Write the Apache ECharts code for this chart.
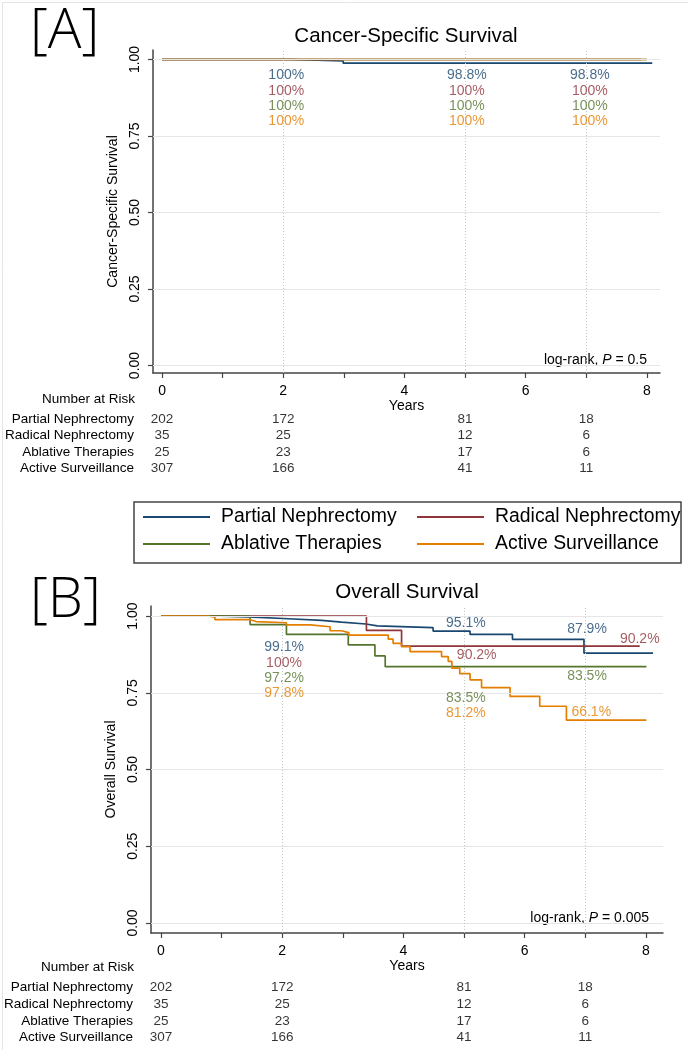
<!DOCTYPE html>
<html>
<head>
<meta charset="utf-8">
<script src="https://cdn.jsdelivr.net/npm/echarts@6/dist/echarts.min.js"></script>
<style>
html,body{margin:0;padding:0;background:#fff;}
#chart{width:688px;height:1050px;}
</style>
</head>
<body>
<div id="chart"></div>
<script>
// ---------- DATA ----------
const groups = ['Partial Nephrectomy', 'Radical Nephrectomy', 'Ablative Therapies', 'Active Surveillance'];
const xTicks = [0, 1, 2, 3, 4, 5, 6, 7, 8];
const xTickLabels = [0, 2, 4, 6, 8];
const yTicks = [0, 0.25, 0.5, 0.75, 1];
const riskTimes = [0, 2, 5, 7];
const riskPartial = [202, 172, 81, 18];
const riskRadical = [35, 25, 12, 6];
const riskAblative = [25, 23, 17, 6];
const riskActive = [307, 166, 41, 11];

// Panel A: cancer-specific survival (Kaplan-Meier steps)
const cssPartialT = [0, 2.12, 2.99, 8.09];
const cssPartialS = [1, 0.995, 0.988, 0.988];
const cssRadicalT = [0, 7.9];
const cssRadicalS = [1, 1];
const cssAblativeT = [0, 8.0];
const cssAblativeS = [1, 1];
const cssActiveT = [0, 8.0];
const cssActiveS = [1, 1];

// Panel B: overall survival (Kaplan-Meier steps)
const osPartialT = [0, 0.8, 1.43, 2.1, 2.65, 2.98, 3.38, 3.57, 4.49, 5.1, 5.8, 6.98, 8.12];
const osPartialS = [1, 0.997, 0.991, 0.986, 0.98, 0.974, 0.968, 0.962, 0.951, 0.94, 0.924, 0.879, 0.879];
const osRadicalT = [0, 3.39, 3.97, 7.9];
const osRadicalS = [1, 0.953, 0.902, 0.902];
const osAblativeT = [0, 1.47, 2.07, 3.09, 3.53, 3.7, 8.01];
const osAblativeS = [1, 0.972, 0.94, 0.906, 0.87, 0.835, 0.835];
const osActiveT = [0, 0.78, 0.89, 1.47, 1.57, 2.07, 2.46, 2.79, 2.98, 3.1, 3.75, 3.83, 3.97, 4.11, 4.63, 4.74, 4.8, 4.93, 5.1, 5.29, 5.76, 6.25, 6.69, 8.01];
const osActiveS = [1, 0.996, 0.988, 0.982, 0.978, 0.971, 0.965, 0.952, 0.946, 0.938, 0.925, 0.911, 0.9, 0.884, 0.868, 0.852, 0.83, 0.812, 0.792, 0.767, 0.738, 0.706, 0.661, 0.661];

// Survival estimate annotations (text), by group, at 2 / 5 / 7 years
const cssText2 = ['100%', '100%', '100%', '100%'];
const cssText5 = ['98.8%', '100%', '100%', '100%'];
const cssText7 = ['98.8%', '100%', '100%', '100%'];
const osText2 = ['99.1%', '100%', '97.2%', '97.8%'];
const osText5 = ['95.1%', '90.2%', '83.5%', '81.2%'];
const osText7 = ['87.9%', '90.2%', '83.5%', '66.1%'];
const pValueA = '0.5';
const pValueB = '0.005';

// ---------- STYLE / LAYOUT ----------
const colors = ['#1a476f', '#90353b', '#55752f', '#e37e00'];
const FONT = "'Liberation Sans', Arial, sans-serif";
const riskLists = [riskPartial, riskRadical, riskAblative, riskActive];
const cssCurves = [[cssPartialT, cssPartialS], [cssRadicalT, cssRadicalS], [cssAblativeT, cssAblativeS], [cssActiveT, cssActiveS]];
const osCurves = [[osPartialT, osPartialS], [osRadicalT, osRadicalS], [osAblativeT, osAblativeS], [osActiveT, osActiveS]];

// annotation placement (data coordinates) per panel
const annotA = [
  {texts: cssText2, x: [2.05, 2.05, 2.05, 2.05], y: [0.95, 0.898, 0.847, 0.797]},
  {texts: cssText5, x: [5.03, 5.03, 5.03, 5.03], y: [0.95, 0.898, 0.847, 0.797]},
  {texts: cssText7, x: [7.06, 7.06, 7.06, 7.06], y: [0.95, 0.898, 0.847, 0.797]}
];
const annotB = [
  {texts: osText2, x: [2.03, 2.03, 2.03, 2.03], y: [0.899, 0.848, 0.799, 0.749]},
  {texts: osText5, x: [5.03, 5.21, 5.03, 5.03], y: [0.978, 0.871, 0.734, 0.682]},
  {texts: osText7, x: [7.03, 7.9, 7.03, 7.1], y: [0.958, 0.925, 0.805, 0.686]}
];

const axA = {min: -0.149, max: 8.218};
const axB = {min: -0.165, max: 8.284};

function zip(t, s) { return t.map((v, i) => [v, s[i]]); }

const chart = echarts.init(document.getElementById('chart'), null, {renderer: 'canvas'});

function plotXAxis(grid, ax, nameGap, margin) {
  return {
    gridIndex: grid, type: 'value', min: ax.min, max: ax.max,
    name: 'Years', nameLocation: 'middle', nameGap: nameGap,
    nameTextStyle: {fontFamily: FONT, fontSize: 14, color: '#000'},
    axisLine: {onZero: false, lineStyle: {color: '#444', width: 1.5}},
    axisTick: {show: true, length: 5, customValues: xTicks, lineStyle: {color: '#444', width: 1.2}},
    axisLabel: {customValues: xTickLabels, margin: margin, fontFamily: FONT, fontSize: 14, color: '#000'},
    splitLine: {show: false}
  };
}
function plotYAxis(grid, min, max, name) {
  return {
    gridIndex: grid, type: 'value', min: min, max: max,
    name: name, nameLocation: 'middle', nameGap: 27, nameRotate: 90,
    nameTextStyle: {fontFamily: FONT, fontSize: 14, color: '#000'},
    axisLine: {show: true, onZero: false, lineStyle: {color: '#444', width: 1.5}},
    axisTick: {show: true, length: 5, customValues: yTicks, lineStyle: {color: '#444', width: 1.2}},
    axisLabel: {customValues: yTicks, rotate: 90, margin: 11, fontFamily: FONT, fontSize: 14, color: '#000',
      formatter: v => Number(v).toFixed(2)},
    splitLine: {show: false}
  };
}
function riskXAxis(grid, ax) {
  return {gridIndex: grid, type: 'value', min: ax.min, max: ax.max, show: false};
}
function riskYAxis(grid, margin) {
  return {
    gridIndex: grid, type: 'category', data: groups, inverse: true,
    axisLine: {show: false}, axisTick: {show: false}, splitLine: {show: false},
    axisLabel: {interval: 0, margin: margin, fontFamily: FONT, fontSize: 13.5, color: '#000'}
  };
}

const series = [];
// gridlines helper series
function gridSeries(xi, yi) {
  return {
    type: 'line', xAxisIndex: xi, yAxisIndex: yi, data: [], silent: true, z: 1,
    markLine: {
      silent: true, symbol: 'none', animation: false, label: {show: false},
      data: [
        ...yTicks.map(v => ({yAxis: v, lineStyle: {color: '#e6e6e6', width: 1.2, type: 'solid'}})),
        ...[2, 5, 7].map(v => ({xAxis: v, lineStyle: {color: '#c4c4c4', width: 1, type: [1, 2]}}))
      ]
    }
  };
}
series.push(gridSeries(0, 0));
series.push(gridSeries(2, 2));

groups.forEach((g, i) => {
  series.push({
    name: g, type: 'line', step: 'end', xAxisIndex: 0, yAxisIndex: 0, z: 3 + (i === 3 ? 1 : 0),
    showSymbol: false, symbol: 'none', color: colors[i],
    lineStyle: {width: 1.7, color: colors[i]},
    data: zip(cssCurves[i][0], cssCurves[i][1])
  });
  series.push({
    name: g, type: 'line', step: 'end', xAxisIndex: 2, yAxisIndex: 2, z: 3,
    showSymbol: false, symbol: 'none', color: colors[i],
    lineStyle: {width: 1.7, color: colors[i]},
    data: zip(osCurves[i][0], osCurves[i][1])
  });
  // number-at-risk rows
  [1, 3].forEach(gi => {
    series.push({
      name: 'risk-' + gi + '-' + g, type: 'scatter', xAxisIndex: gi, yAxisIndex: gi,
      symbolSize: 0, silent: true,
      data: riskTimes.map((t, k) => [t, g, riskLists[i][k]]),
      label: {show: true, position: 'inside', formatter: p => String(p.value[2]),
        fontFamily: FONT, fontSize: 13.5, color: '#000'}
    });
  });
});

function annotSeries(list, xi, yi, tag) {
  groups.forEach((g, i) => {
    series.push({
      name: 'annot-' + tag + '-' + g, type: 'scatter', xAxisIndex: xi, yAxisIndex: yi,
      symbolSize: 0, silent: true, z: 5,
      data: list.map(a => [a.x[i], a.y[i], a.texts[i]]),
      label: {show: true, position: 'inside', formatter: p => p.value[2],
        fontFamily: FONT, fontSize: 14, color: colors[i]}
    });
  });
}
annotSeries(annotA, 0, 0, 'A');
annotSeries(annotB, 2, 2, 'B');

const textStyleBase = {fontFamily: FONT, fill: '#000'};
const bracketStyle = {fontFamily: "'Open Sans', 'Noto Sans', sans-serif", fontWeight: 300, fontSize: 56, fill: '#000', verticalAlign: 'top'};

const legendCommon = {
  top: 506, orient: 'vertical', icon: 'rect', padding: 0,
  itemWidth: 67, itemHeight: 2, itemGap: 5, selectedMode: false,
  textStyle: {fontFamily: FONT, fontSize: 19.4, color: '#000', lineHeight: 22, padding: [0, 0, 0, 6]}
};

const option = {
  animation: false,
  backgroundColor: '#fff',
  grid: [
    {left: 153, top: 50, width: 507, height: 323},
    {left: 153, top: 411, width: 507, height: 66},
    {left: 151, top: 606, width: 512, height: 327},
    {left: 151, top: 979, width: 512, height: 67}
  ],
  xAxis: [
    plotXAxis(0, axA, 26, 11),
    riskXAxis(1, axA),
    plotXAxis(2, axB, 25, 11),
    riskXAxis(3, axB)
  ],
  yAxis: [
    plotYAxis(0, -0.0245, 1.031, 'Cancer-Specific Survival'),
    riskYAxis(1, 19),
    plotYAxis(2, -0.0326, 1.0326, 'Overall Survival'),
    riskYAxis(3, 18)
  ],
  legend: [
    Object.assign({left: 143, data: [groups[0], groups[2]]}, legendCommon),
    Object.assign({left: 417, data: [groups[1], groups[3]]}, legendCommon)
  ],
  graphic: [
    {type: 'rect', left: 0, top: 0, shape: {x: 0.5, y: 0.5, width: 687, height: 1049}, style: {fill: 'none', stroke: '#e4e4e4', lineWidth: 1}, silent: true},
    {type: 'text', x: 30, y: 4, style: Object.assign({text: '[A]'}, bracketStyle)},
    {type: 'text', x: 30, y: 573, style: Object.assign({text: '[B]'}, bracketStyle)},
    {type: 'text', x: 406, y: 36, style: Object.assign({}, textStyleBase, {text: 'Cancer-Specific Survival', fontSize: 20.5, align: 'center', verticalAlign: 'middle'})},
    {type: 'text', x: 407, y: 592, style: Object.assign({}, textStyleBase, {text: 'Overall Survival', fontSize: 20.5, align: 'center', verticalAlign: 'middle'})},
    {type: 'text', x: 135, y: 399, style: Object.assign({}, textStyleBase, {text: 'Number at Risk', fontSize: 13.5, align: 'right', verticalAlign: 'middle'})},
    {type: 'text', x: 134, y: 967, style: Object.assign({}, textStyleBase, {text: 'Number at Risk', fontSize: 13.5, align: 'right', verticalAlign: 'middle'})},
    {type: 'text', x: 647, y: 360, style: Object.assign({}, textStyleBase, {text: 'log-rank, {i|P} = ' + pValueA, fontSize: 14, align: 'right', verticalAlign: 'middle', rich: {i: {fontStyle: 'italic', fontFamily: FONT, fontSize: 14}}})},
    {type: 'text', x: 649, y: 918, style: Object.assign({}, textStyleBase, {text: 'log-rank, {i|P} = ' + pValueB, fontSize: 14, align: 'right', verticalAlign: 'middle', rich: {i: {fontStyle: 'italic', fontFamily: FONT, fontSize: 14}}})},
    {type: 'rect', shape: {x: 134, y: 502, width: 547, height: 61}, style: {fill: 'none', stroke: '#444', lineWidth: 1.5}, silent: true, z: -1}
  ],
  series: series
};
chart.setOption(option);
</script>
</body>
</html>
